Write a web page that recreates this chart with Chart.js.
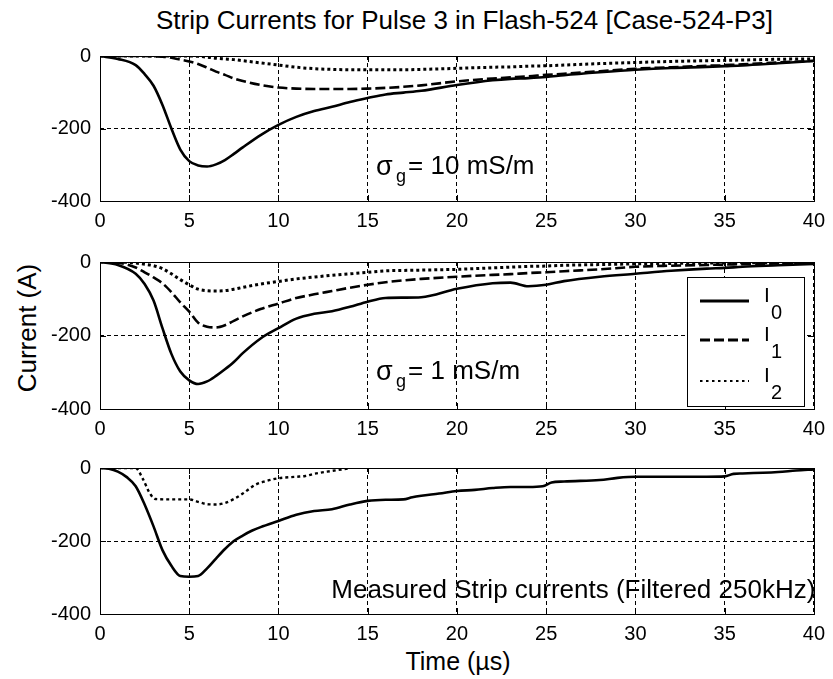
<!DOCTYPE html>
<html><head><meta charset="utf-8">
<script src="https://cdn.jsdelivr.net/npm/chart.js@4.4.1/dist/chart.umd.min.js"></script>
<style>
html,body{margin:0;padding:0;background:#fff;}
#wrap{position:relative;width:833px;height:679px;overflow:hidden;background:#fff;font-family:"Liberation Sans",Arial,sans-serif;}
canvas{position:absolute;left:0;}
.txt{position:absolute;font-size:25px;line-height:25px;white-space:nowrap;color:#000;text-align:center;}
</style></head><body>
<div id="wrap">
  <div class="txt" style="left:156px;width:600px;top:7px;font-size:26px;line-height:26px;">Strip Currents for Pulse 3 in Flash-524 [Case-524-P3]</div>
  <div class="txt" style="left:-73px;width:200px;top:315px;font-size:26px;line-height:26px;transform:rotate(-90deg);">Current (A)</div>
  <div class="txt" style="left:358px;width:200px;top:649px;">Time (µs)</div>
  <canvas id="c1" width="833" height="198" style="top:35px"></canvas>
  <canvas id="c2" width="833" height="200" style="top:241px"></canvas>
  <canvas id="c3" width="833" height="199" style="top:447px"></canvas>
</div>
<script>
// ---------- data ----------
const xTicks = [0,5,10,15,20,25,30,35,40];
const yTicks = [-400,-200,0];
const seriesNames = [{base:'I',sub:'0'},{base:'I',sub:'1'},{base:'I',sub:'2'}];

// model time grid (µs) for panels 1 and 2
const timeModel = [0,1,2,2.5,3,3.5,4,4.5,5,5.5,6,6.5,7,7.5,8,9,10,11,12,13,14,15,16,17,18,20,22,23,24,25,26,28,30,32,34,35,36,38,40];

// Panel 1: sigma_g = 10 mS/m
const p1I0 = [0,-8,-25,-50,-82,-135,-200,-258,-290,-302,-305,-299,-287,-270,-252,-218,-190,-168,-152,-140,-127,-116,-106,-101,-96,-80,-67,-63,-61,-58,-53,-45,-38,-33,-30,-28,-26,-20,-14];
const p1I1 = [0,0,0,0,-1,-2,-5,-10,-15,-22,-32,-43,-52,-62,-69,-80,-87,-90,-91,-91,-91,-90,-88,-85,-81,-70,-62,-59,-56,-52,-49,-42,-35,-31,-27,-25,-23,-18,-13];
const p1I2 = [0,0,0,0,0,0,0,0,0,-1,-3,-6,-8,-10,-13,-19,-25,-31,-35,-37,-38,-38,-38,-38,-37,-34,-31,-30,-28,-27,-25,-21,-18,-15,-13,-12,-11,-9,-8];

// Panel 2: sigma_g = 1 mS/m
const p2I0 = [0,-8,-32,-60,-105,-180,-250,-298,-322,-332,-325,-310,-292,-272,-248,-208,-180,-154,-141,-134,-122,-108,-98,-97,-96,-73,-58,-56,-66,-62,-52,-40,-32,-24,-18,-16,-13,-9,-5];
const p2I1 = [0,-2,-15,-28,-42,-58,-82,-110,-135,-165,-176,-178,-172,-160,-148,-128,-113,-98,-88,-79,-70,-62,-55,-50,-46,-40,-35,-33,-30,-28,-25,-20,-13,-10,-8,-7,-6,-4,-3];
const p2I2 = [0,0,-3,-6,-10,-18,-32,-48,-62,-74,-78,-79,-78,-74,-69,-60,-53,-46,-41,-36,-32,-28,-24,-23,-22,-20,-16,-14,-12,-11,-9,-7,-5,-4,-3,-3,-2,-2,-2];

// Panel 3: measured strip currents (filtered 250 kHz)
const timeMeasI0 = [0,0.5,1,1.5,2,2.5,3,3.5,4,4.5,5,5.5,6,6.5,7,7.5,8,8.5,9,10,11,12,13,14,15,16,17,17.5,18,19,20,21,22,23,24,24.8,25.3,26,28,29,30,32,34,35,35.5,36,38,39,40];
const p3I0 = [0,-2,-10,-25,-50,-100,-160,-225,-268,-296,-298,-296,-275,-248,-222,-200,-185,-172,-162,-145,-128,-118,-113,-100,-90,-87,-86,-80,-76,-70,-63,-60,-55,-52,-52,-50,-40,-37,-33,-27,-24,-24,-24,-23,-16,-15,-11,-7,-4];
const timeMeasI2 = [0,2,2.4,2.8,3.1,4,5,5.5,6,6.5,7,7.5,8,8.7,9.3,10,11,11.5,12,13,13.8,14];
const p3I2 = [0,0,-30,-70,-85,-86,-86,-93,-99,-100,-96,-85,-70,-46,-36,-28,-24,-22,-16,-8,-2,0];

const panelNotes = [
  {x:15.47, y:-325, parts:[{t:'σ',size:27,dx:0,dy:1},{t:'g',size:18,dx:20,dy:8},{t:'= 10 mS/m',size:26,dx:32,dy:0}]},
  {x:15.47, y:-318, parts:[{t:'σ',size:27,dx:0,dy:1},{t:'g',size:18,dx:20,dy:8},{t:'= 1 mS/m',size:26,dx:32,dy:0}]},
  {x:12.96, y:-356, parts:[{t:'Measured Strip currents (Filtered 250kHz)',size:26,dx:0,dy:0}]}
];

// ---------- helpers ----------
const FONT = '"Liberation Sans", Arial, sans-serif';
const pts = (xs, ys) => xs.map((v,i)=>({x:v, y:ys[i]}));
const STY = {
  solid:{borderWidth:2.6, borderDash:[]},
  dashed:{borderWidth:2.6, borderDash:[10,4]},
  dotted:{borderWidth:3, borderDash:[3,3]},
  dottedThin:{borderWidth:2.4, borderDash:[3,3]}
};
function ds(data, sty){
  return Object.assign({data, borderColor:'#000', backgroundColor:'#000', pointRadius:0, fill:false,
    cubicInterpolationMode:'monotone', borderCapStyle:'butt', borderJoinStyle:'round'}, sty);
}

const framePlugin = {
  id:'frame',
  afterDatasetsDraw(chart, args, opts){
    const {ctx, chartArea:a, scales:{x, y}} = chart;
    const L = Math.round(a.left), T = Math.round(a.top), R = Math.round(a.right), B = Math.round(a.bottom);
    ctx.save();
    ctx.setLineDash([]);
    ctx.strokeStyle = '#000'; ctx.lineWidth = 1;
    ctx.strokeRect(L+0.5, T+0.5, R-L, B-T);
    const tl = 6;
    ctx.beginPath();
    xTicks.forEach(v=>{ const p = Math.round(x.getPixelForValue(v))+0.5; ctx.moveTo(p,B); ctx.lineTo(p,B-tl); ctx.moveTo(p,T); ctx.lineTo(p,T+tl); });
    yTicks.forEach(v=>{ const p = Math.round(y.getPixelForValue(v))+0.5; ctx.moveTo(L,p); ctx.lineTo(L+tl,p); ctx.moveTo(R,p); ctx.lineTo(R-tl,p); });
    ctx.stroke();
    if (opts.note){
      const n = opts.note;
      const bx = x.getPixelForValue(n.x), by = y.getPixelForValue(n.y);
      ctx.fillStyle = '#000'; ctx.textAlign = 'left'; ctx.textBaseline = 'alphabetic';
      n.parts.forEach(p=>{ ctx.font = p.size+'px '+FONT; ctx.fillText(p.t, bx+p.dx, by+p.dy); });
    }
    ctx.restore();
  },
  afterDraw(chart, args, opts){
    if (!opts.legend) return;
    const {ctx, chartArea:a} = chart;
    const L = Math.round(a.right) - 127, T = Math.round(a.top) + 15, W = 117, H = 129;
    const rows = [24, 63, 104];
    ctx.save();
    ctx.fillStyle = '#fff'; ctx.fillRect(L, T, W, H);
    ctx.strokeStyle = '#000'; ctx.lineWidth = 1; ctx.setLineDash([]);
    ctx.strokeRect(L+0.5, T+0.5, W, H);
    const legSty = [{w:3,d:[]},{w:3,d:[10,4]},{w:2.2,d:[2.5,3.5]}];
    seriesNames.forEach((nm,i)=>{
      const yy = T + rows[i];
      ctx.beginPath(); ctx.lineWidth = legSty[i].w; ctx.setLineDash(legSty[i].d);
      ctx.moveTo(L+13, yy); ctx.lineTo(L+62, yy); ctx.stroke();
      ctx.setLineDash([]);
      ctx.fillStyle = '#000'; ctx.textAlign = 'left'; ctx.textBaseline = 'alphabetic';
      ctx.font = '21px '+FONT; ctx.fillText(nm.base, L+77, yy+1);
      ctx.font = '20px '+FONT; ctx.fillText(nm.sub, L+84, yy+18);
    });
    ctx.restore();
  }
};

function makeChart(id, datasets, frameOpts){
  return new Chart(document.getElementById(id), {
    type:'line',
    data:{datasets},
    options:{
      responsive:false, animation:false, events:[],
      layout:{padding:{top:12, right:14, left:0, bottom:0}},
      plugins:{legend:{display:false}, tooltip:{enabled:false}, title:{display:false}, frame:frameOpts},
      scales:{
        x:{type:'linear', min:0, max:40,
           afterBuildTicks(s){ s.ticks = xTicks.map(v=>({value:v})); },
           ticks:{color:'#000', font:{size:20, family:FONT}, padding:8, maxRotation:0, autoSkip:false},
           grid:{color:'#000', lineWidth:1, drawTicks:false},
           border:{display:false, dash:[4,3]},
           afterFit(s){ s.height = 32; }},
        y:{type:'linear', min:-400, max:0,
           afterBuildTicks(s){ s.ticks = yTicks.map(v=>({value:v})); },
           ticks:{color:'#000', font:{size:20, family:FONT}, padding:9},
           grid:{color:'#000', lineWidth:1, drawTicks:false},
           border:{display:false, dash:[4,3]},
           afterFit(s){ s.width = 100; }}
      }
    },
    plugins:[framePlugin]
  });
}

makeChart('c1', [
  ds(pts(timeModel, p1I0), STY.solid),
  ds(pts(timeModel, p1I1), STY.dashed),
  ds(pts(timeModel, p1I2), STY.dotted)
], {note:panelNotes[0]});

makeChart('c2', [
  ds(pts(timeModel, p2I0), STY.solid),
  ds(pts(timeModel, p2I1), STY.dashed),
  ds(pts(timeModel, p2I2), STY.dotted)
], {note:panelNotes[1], legend:true});

makeChart('c3', [
  ds(pts(timeMeasI0, p3I0), STY.solid),
  ds(pts(timeMeasI2, p3I2), STY.dottedThin)
], {note:panelNotes[2]});
</script>
</body></html>
